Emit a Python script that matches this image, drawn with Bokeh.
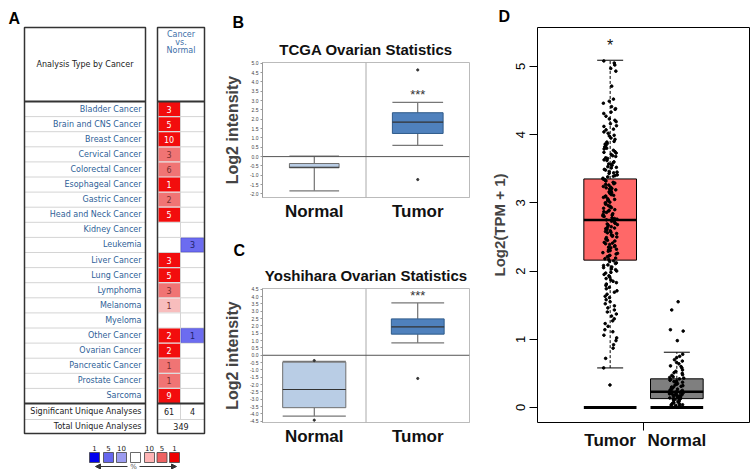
from bokeh.plotting import figure
from bokeh.layouts import row, column
from bokeh.models import (Range1d, FixedTicker, NumeralTickFormatter, Span,
                          Arrow, NormalHead, LinearAxis, ColumnDataSource,
                          CustomJSTickFormatter)
from bokeh.transform import jitter
from bokeh.core.properties import value
from bokeh.embed import file_html
from bokeh.resources import INLINE

# ======================= DATA =======================
# Panel A (Oncomine summary)
cancers = ["Bladder Cancer", "Brain and CNS Cancer", "Breast Cancer", "Cervical Cancer",
           "Colorectal Cancer", "Esophageal Cancer", "Gastric Cancer", "Head and Neck Cancer",
           "Kidney Cancer", "Leukemia", "Liver Cancer", "Lung Cancer", "Lymphoma", "Melanoma",
           "Myeloma", "Other Cancer", "Ovarian Cancer", "Pancreatic Cancer", "Prostate Cancer",
           "Sarcoma"]
up_counts = [3, 5, 10, 3, 6, 1, 2, 5, None, None, 3, 5, 3, 1, None, 2, 2, 1, 1, 9]
up_rank_pct = [1, 1, 1, 5, 5, 1, 5, 1, None, None, 1, 1, 5, 10, None, 1, 1, 5, 5, 1]
down_counts = [None, None, None, None, None, None, None, None, None, 3,
               None, None, None, None, None, 1, None, None, None, None]
down_rank_pct = [None, None, None, None, None, None, None, None, None, 5,
                 None, None, None, None, None, 5, None, None, None, None]
summary_labels = ["Significant Unique Analyses", "Total Unique Analyses"]
sig_unique = [61, 4]
total_unique = 349
legend_pct = ["1", "5", "10", "", "10", "5", "1"]

# Panel B (TCGA Ovarian)
b_groups = ["Normal", "Tumor"]
b_q1 = [-0.60, 1.24]
b_med = [-0.57, 1.85]
b_q3 = [-0.37, 2.35]
b_lo = [-1.83, 0.60]
b_hi = [0.03, 2.90]
b_out_g = ["Tumor", "Tumor"]
b_out_y = [4.64, -1.23]
b_sig_y = 3.35
b_ticks = [-2.0, -1.5, -1.0, -0.5, 0.0, 0.5, 1.0, 1.5, 2.0, 2.5, 3.0, 3.5, 4.0, 4.5, 5.0]

# Panel C (Yoshihara Ovarian)
c_groups = ["Normal", "Tumor"]
c_q1 = [-3.57, 1.44]
c_med = [-2.33, 1.94]
c_q3 = [-0.47, 2.48]
c_lo = [-4.15, 0.84]
c_hi = [-0.42, 3.57]
c_out_g = ["Normal", "Normal", "Tumor"]
c_out_y = [-0.36, -4.42, -1.58]
c_sig_y = 4.06
c_ticks = [-4.5, -4.0, -3.5, -3.0, -2.5, -2.0, -1.5, -1.0, -0.5, 0.0,
           0.5, 1.0, 1.5, 2.0, 2.5, 3.0, 3.5, 4.0, 4.5]

# Panel D (GEPIA)
d_groups = ["Tumor", "Normal"]
d_q1 = [2.16, 0.13]
d_med = [2.75, 0.23]
d_q3 = [3.35, 0.42]
d_lo = [0.58, 0.0]
d_hi = [5.09, 0.81]
d_zero = [0.0, 0.0]
d_sig_y = 5.30
d_ticks = [0, 1, 2, 3, 4, 5]
tumor_expr = [
    5.08, 5.05, 5.02, 4.97, 4.93, 4.71, 4.52, 4.49, 4.46, 4.41, 4.38, 4.37, 4.33, 4.31, 4.27,
    4.23, 4.21, 4.19, 4.16, 4.13, 4.12, 4.08, 4.07, 4.04, 4.02, 3.99, 3.98, 3.95, 3.93, 3.90,
    3.89, 3.87, 3.86, 3.84, 3.82, 3.80, 3.79, 3.77, 3.75, 3.74, 3.73, 3.71, 3.69, 3.68, 3.66,
    3.65, 3.63, 3.62, 3.60, 3.59, 3.57, 3.56, 3.55, 3.53, 3.52, 3.51, 3.49, 3.48, 3.46, 3.45,
    3.44, 3.43, 3.41, 3.40, 3.39, 3.38, 3.36, 3.35, 3.34, 3.33, 3.32, 3.30, 3.29, 3.28, 3.27,
    3.26, 3.24, 3.23, 3.22, 3.21, 3.20, 3.19, 3.17, 3.16, 3.15, 3.14, 3.12, 3.11, 3.10, 3.09,
    3.08, 3.06, 3.05, 3.04, 3.03, 3.01, 3.00, 2.99, 2.98, 2.96, 2.95, 2.94, 2.93, 2.92, 2.90,
    2.89, 2.88, 2.87, 2.86, 2.84, 2.83, 2.82, 2.81, 2.80, 2.78, 2.77, 2.76, 2.75, 2.74, 2.73,
    2.71, 2.70, 2.69, 2.68, 2.67, 2.65, 2.64, 2.63, 2.62, 2.61, 2.59, 2.58, 2.57, 2.56, 2.55,
    2.53, 2.52, 2.51, 2.50, 2.49, 2.47, 2.46, 2.45, 2.44, 2.42, 2.41, 2.40, 2.39, 2.37, 2.36,
    2.35, 2.34, 2.32, 2.31, 2.30, 2.29, 2.27, 2.26, 2.25, 2.23, 2.22, 2.21, 2.19, 2.18, 2.17,
    2.15, 2.14, 2.12, 2.11, 2.09, 2.08, 2.06, 2.05, 2.03, 2.02, 2.00, 1.98, 1.97, 1.95, 1.93,
    1.91, 1.89, 1.87, 1.85, 1.83, 1.81, 1.79, 1.76, 1.74, 1.71, 1.69, 1.66, 1.63, 1.61, 1.58,
    1.55, 1.52, 1.49, 1.46, 1.43, 1.40, 1.37, 1.34, 1.30, 1.27, 1.23, 1.19, 1.14, 1.11, 1.06,
    1.02, 0.98, 0.92, 0.87, 0.72, 0.58, 0.33]
normal_expr = [
    1.55, 1.43, 1.14, 1.12, 0.98, 0.78, 0.75, 0.73, 0.70, 0.68, 0.66, 0.64, 0.61, 0.60, 0.58,
    0.55, 0.53, 0.51, 0.50, 0.48, 0.47, 0.45, 0.44, 0.43, 0.42, 0.41, 0.40, 0.39, 0.38, 0.37,
    0.36, 0.35, 0.34, 0.33, 0.32, 0.31, 0.30, 0.30, 0.29, 0.28, 0.27, 0.26, 0.25, 0.25, 0.24,
    0.23, 0.23, 0.22, 0.22, 0.21, 0.21, 0.20, 0.20, 0.19, 0.19, 0.18, 0.18, 0.17, 0.17, 0.16,
    0.16, 0.15, 0.15, 0.14, 0.14, 0.13, 0.12, 0.12, 0.11, 0.10, 0.09, 0.08, 0.07, 0.06, 0.05,
    0.04, 0.04, 0.03, 0.02, 0.02, 0.01]

# ======================= STYLE / LAYOUT =======================
W_A, W_BC, W_D, H = 206, 264, 280, 469
H_B, H_C = 230, 239
SANS = value("Liberation Sans")
TAB = value("DejaVu Sans")
UP_COL = {1: "#f20d0d", 5: "#f07474", 10: "#f8bdbd"}
DN_COL = {1: "#1010ee", 5: "#6c6cf0", 10: "#9e9ef2"}
UP_TXT = {1: "#ffffff", 5: "#7a2f2f", 10: "#7a2f2f"}
DN_TXT = {1: "#ffffff", 5: "#22226a", 10: "#22226a"}
LEG_COL = ["#0000ee", "#6666ee", "#9c9cf0", "#ffffff", "#ffb4b4", "#ee6262", "#ee0000"]


def style_letter(t, text, offset, standoff, valign="bottom"):
    t.text = text
    t.align = "left"
    t.vertical_align = valign
    t.offset = offset
    t.standoff = standoff
    t.text_font = "Liberation Sans"
    t.text_font_size = "16px"
    t.text_font_style = "bold"
    t.text_color = "#000000"


def group_label_formatter(names):
    return CustomJSTickFormatter(args=dict(names=names),
                                 code="return names[Math.round(tick - 0.5)];")


# ---------------- Panel A ----------------
pa = figure(width=W_A, height=H, x_range=Range1d(0, W_A), y_range=Range1d(H, 0),
            output_backend="svg", toolbar_location=None, min_border=0, title=None,
            x_axis_location=None, y_axis_location=None)
pa.grid.visible = False
pa.outline_line_color = None

L0, L1 = 24, 145
R0, RM, R1 = 157, 180, 204
TOP, HDR, ROWH = 27, 101, 15.1
n = len(cancers)
ROWS_END = HDR + n * ROWH
SIG_B = ROWS_END + 16
TOT_B = SIG_B + 14
row_y = [HDR + (i + 0.5) * ROWH for i in range(n)]

sep_y = [HDR + i * ROWH for i in range(1, n)] + [SIG_B]
pa.segment(x0=[L0] * len(sep_y), x1=[L1] * len(sep_y), y0=sep_y, y1=sep_y,
           line_color="#d4d4d4", line_width=1)
pa.segment(x0=[R0] * len(sep_y), x1=[R1] * len(sep_y), y0=sep_y, y1=sep_y,
           line_color="#d4d4d4", line_width=1)
pa.segment(x0=[RM], x1=[RM], y0=[HDR], y1=[SIG_B], line_color="#d4d4d4", line_width=1)

uy, ut, uc, utc = [], [], [], []
for i, (c, r) in enumerate(zip(up_counts, up_rank_pct)):
    if c is not None:
        uy.append(row_y[i]); ut.append(str(c)); uc.append(UP_COL[r]); utc.append(UP_TXT[r])
pa.quad(left=R0 + 1, right=RM - 0.5, top=[y - ROWH / 2 + 0.6 for y in uy],
        bottom=[y + ROWH / 2 - 0.6 for y in uy], fill_color=uc, line_color=None)
pa.text(x=[(R0 + RM) / 2] * len(uy), y=uy, text=ut, text_color=utc, text_align="center",
        text_baseline="middle", text_font=TAB, text_font_size="8px")
dy, dt, dc, dtc = [], [], [], []
for i, (c, r) in enumerate(zip(down_counts, down_rank_pct)):
    if c is not None:
        dy.append(row_y[i]); dt.append(str(c)); dc.append(DN_COL[r]); dtc.append(DN_TXT[r])
pa.quad(left=RM + 0.5, right=R1 - 1, top=[y - ROWH / 2 + 0.6 for y in dy],
        bottom=[y + ROWH / 2 - 0.6 for y in dy], fill_color=dc, line_color="#4444cc",
        line_width=0.5)
pa.text(x=[(RM + R1) / 2] * len(dy), y=dy, text=dt, text_color=dtc, text_align="center",
        text_baseline="middle", text_font=TAB, text_font_size="8px")

for x0, x1 in [(L0, L1), (R0, R1)]:
    pa.quad(left=[x0], right=[x1], top=[TOP], bottom=[TOT_B], fill_color=None,
            line_color="#333333", line_width=1.5)
    pa.segment(x0=[x0, x0], x1=[x1, x1], y0=[HDR, ROWS_END], y1=[HDR, ROWS_END],
               line_color="#333333", line_width=2)

pa.text(x=[(L0 + L1) / 2], y=[HDR / 2 + TOP / 2], text=["Analysis Type by Cancer"],
        text_align="center", text_baseline="middle", text_font=TAB, text_font_size="8px",
        text_color="#222222")
pa.text(x=[(R0 + R1) / 2] * 3, y=[TOP + 7, TOP + 15, TOP + 23], text=["Cancer", "vs.", "Normal"],
        text_align="center", text_baseline="middle", text_font=TAB, text_font_size="8px",
        text_color="#3d6fa8")
pa.text(x=[L1 - 4] * n, y=row_y, text=cancers, text_align="right", text_baseline="middle",
        text_font=TAB, text_font_size="8px", text_color="#2f5f98")
sum_y = [(ROWS_END + SIG_B) / 2, (SIG_B + TOT_B) / 2]
pa.text(x=[L1 - 4] * 2, y=sum_y, text=summary_labels, text_align="right",
        text_baseline="middle", text_font=TAB, text_font_size="8px", text_color="#222222")
pa.text(x=[(R0 + RM) / 2, (RM + R1) / 2, (R0 + R1) / 2], y=[sum_y[0], sum_y[0], sum_y[1]],
        text=[str(sig_unique[0]), str(sig_unique[1]), str(total_unique)], text_align="center",
        text_baseline="middle", text_font=TAB, text_font_size="8px", text_color="#222222")

leg_x = [94, 108, 121, 135, 149, 161.5, 174]
LEG_Y = 457
pa.rect(x=leg_x, y=[LEG_Y] * 7, width=10, height=10, fill_color=LEG_COL,
        line_color="#444444", line_width=0.8)
lab_idx = [i for i, t in enumerate(legend_pct) if t]
pa.text(x=[leg_x[i] for i in lab_idx], y=[LEG_Y - 10] * len(lab_idx),
        text=[legend_pct[i] for i in lab_idx], text_align="center",
        text_baseline="middle", text_font=TAB, text_font_size="7px", text_color="#222222")
pa.text(x=[133], y=[LEG_Y + 9], text=["%"], text_align="center", text_baseline="middle",
        text_font=TAB, text_font_size="7px", text_color="#555555")
pa.add_layout(Arrow(x_start=127, y_start=LEG_Y + 9, x_end=95, y_end=LEG_Y + 9,
                    line_color="#333333", line_width=1,
                    end=NormalHead(size=5, fill_color="#333333", line_color="#333333")))
pa.add_layout(Arrow(x_start=139, y_start=LEG_Y + 9, x_end=176, y_end=LEG_Y + 9,
                    line_color="#333333", line_width=1,
                    end=NormalHead(size=5, fill_color="#333333", line_color="#333333")))
pa.text(x=[8], y=[9], text=["A"], text_align="left", text_baseline="top", text_font=SANS,
        text_font_size="16px", text_font_style="bold", text_color="#000000")


# ---------------- Panels B, C ----------------
def oncomine_panel(title, groups, q1, med, q3, lo, hi, widths, out_g, out_y, sig_y, ticks,
                   yr, height, btop, bbot, letter, letter_off, letter_standoff):
    gx = [i + 0.5 for i in range(len(groups))]
    pos = dict(zip(groups, gx))
    p = figure(width=W_BC, height=height, x_range=Range1d(0, len(groups)),
               y_range=Range1d(*yr), output_backend="svg", toolbar_location=None,
               min_border_left=56, min_border_right=1, min_border_top=btop,
               min_border_bottom=bbot, x_axis_location=None)
    p.grid.visible = False
    p.outline_line_color = "#bbbbbb"
    style_letter(p.title, letter, letter_off, letter_standoff, valign="top")
    # title drawn as the label of an (empty) axis above the frame
    top_ax = LinearAxis(ticker=FixedTicker(ticks=[]), axis_line_color=None,
                        major_tick_out=0, major_tick_in=0, minor_tick_line_color=None,
                        major_label_standoff=0, axis_label=title, axis_label_standoff=5,
                        axis_label_text_font="Liberation Sans",
                        axis_label_text_font_size="15px", axis_label_text_font_style="bold",
                        axis_label_text_color="#111111")
    p.add_layout(top_ax, "above")
    bot_ax = LinearAxis(ticker=FixedTicker(ticks=gx), formatter=group_label_formatter(groups),
                        axis_line_color="#bbbbbb", major_tick_line_color=None,
                        major_tick_out=0, major_tick_in=0, minor_tick_line_color=None,
                        major_label_text_font="Liberation Sans",
                        major_label_text_font_size="17px", major_label_text_font_style="bold",
                        major_label_text_color="#111111", major_label_standoff=4)
    p.add_layout(bot_ax, "below")
    ya = p.yaxis[0]
    ya.ticker = FixedTicker(ticks=ticks)
    ya.formatter = NumeralTickFormatter(format="0.0")
    ya.major_label_text_font_size = "5px"
    ya.major_label_text_color = "#444444"
    ya.major_label_standoff = 2
    ya.axis_line_color = "#999999"
    ya.major_tick_out = 2
    ya.major_tick_in = 0
    ya.major_tick_line_color = "#999999"
    ya.minor_tick_line_color = None
    ya.axis_label = "Log2 intensity"
    ya.axis_label_text_font = "Liberation Sans"
    ya.axis_label_text_font_size = "16px"
    ya.axis_label_text_font_style = "bold"
    ya.axis_label_standoff = 6
    p.add_layout(Span(location=1.0, dimension="height", line_color="#aaaaaa", line_width=1))
    p.add_layout(Span(location=0.0, dimension="width", line_color="#555555", line_width=1))
    src = ColumnDataSource(dict(
        x=gx, q1=q1, med=med, q3=q3, lo=lo, hi=hi, w=widths,
        l=[x - w / 2 for x, w in zip(gx, widths)], r=[x + w / 2 for x, w in zip(gx, widths)],
        fill=["#b9cde5", "#4f81bd"], edge=["#6f6f6f", "#2f5a8a"]))
    p.segment(x0="x", x1="x", y0="q3", y1="hi", line_color="#555555", source=src)
    p.segment(x0="x", x1="x", y0="q1", y1="lo", line_color="#555555", source=src)
    p.vbar(x="x", top="q3", bottom="q1", width="w", fill_color="fill", line_color="edge",
           line_width=1, source=src)
    p.segment(x0="l", x1="r", y0="hi", y1="hi", line_color="#777777", line_width=1.2, source=src)
    p.segment(x0="l", x1="r", y0="lo", y1="lo", line_color="#777777", line_width=1.2, source=src)
    p.segment(x0="l", x1="r", y0="med", y1="med", line_color="#333333", line_width=1.2,
              source=src)
    p.scatter(x=[pos[g] for g in out_g], y=out_y, size=2.2, color="#333333")
    p.text(x=[pos["Tumor"]], y=[sig_y], text=["***"], text_align="center",
           text_baseline="middle", text_font=SANS, text_font_size="13px", text_color="#333333")
    return p


pb = oncomine_panel("TCGA Ovarian Statistics", b_groups, b_q1, b_med, b_q3, b_lo, b_hi,
                    [0.48, 0.49], b_out_g, b_out_y, b_sig_y, b_ticks, (-2.19, 5.04),
                    H_B, 62, 33, "B", -30, 10)
pc = oncomine_panel("Yoshihara Ovarian Statistics", c_groups, c_q1, c_med, c_q3, c_lo, c_hi,
                    [0.61, 0.51], c_out_g, c_out_y, c_sig_y, c_ticks, (-4.58, 4.55),
                    H_C, 58, 47, "C", -29, 6)

# ---------------- Panel D ----------------
D_YR = (-0.22, 5.57)
d_x = [i + 0.5 for i in range(len(d_groups))]
pd_ = figure(width=W_D, height=H, x_range=Range1d(-0.59, 2.59),
             y_range=Range1d(*D_YR), output_backend="svg", toolbar_location=None,
             min_border_left=67, min_border_right=1, min_border_top=27, min_border_bottom=47,
             x_axis_location=None)
pd_.grid.visible = False
pd_.outline_line_color = "#000000"
pd_.outline_line_width = 1
style_letter(pd_.title, "D", -39, 5)
yd = pd_.yaxis[0]
yd.ticker = FixedTicker(ticks=d_ticks)
yd.major_label_orientation = "parallel"
yd.major_label_text_font = "Liberation Sans"
yd.major_label_text_font_size = "13px"
yd.major_label_text_color = "#000000"
yd.axis_line_color = None
yd.major_tick_out = 8
yd.major_tick_in = 0
yd.major_tick_line_color = "#000000"
yd.minor_tick_line_color = None
yd.major_label_standoff = 4
yd.axis_label = "Log2(TPM + 1)"
yd.axis_label_text_font = "Liberation Sans"
yd.axis_label_text_font_size = "15px"
yd.axis_label_text_font_style = "bold"
yd.axis_label_standoff = 6

# single tick between the two groups (no label)
tick_ax = LinearAxis(ticker=FixedTicker(ticks=[1.0]),
                     formatter=CustomJSTickFormatter(code="return '';"),
                     major_tick_out=8, major_tick_in=0, major_tick_line_color="#000000",
                     axis_line_color=None, minor_tick_line_color=None, major_label_standoff=0,
                     major_label_text_font_size="2px")
pd_.add_layout(tick_ax, "below")
lab_ax = LinearAxis(ticker=FixedTicker(ticks=d_x), formatter=group_label_formatter(d_groups),
                    major_tick_line_color=None, major_tick_out=0, major_tick_in=0,
                    axis_line_color=None, minor_tick_line_color=None,
                    major_label_text_font="Liberation Sans", major_label_text_font_size="17px",
                    major_label_text_font_style="bold", major_label_text_color="#111111",
                    major_label_standoff=0)
pd_.add_layout(lab_ax, "below")

d_fill = ["#ff6868", "#7f7f7f"]
BW, CW = 0.79, 0.39
src = ColumnDataSource(dict(
    x=d_x, q1=d_q1, med=d_med, q3=d_q3, lo=d_lo, hi=d_hi, z=d_zero,
    bl=[x - BW / 2 for x in d_x], br=[x + BW / 2 for x in d_x],
    cl=[x - CW / 2 for x in d_x], cr=[x + CW / 2 for x in d_x], fill=d_fill))
pd_.vbar(x="x", top="q3", bottom="q1", width=BW, fill_color="fill",
         line_color="#000000", line_width=1, source=src)
pd_.segment(x0="x", x1="x", y0="q3", y1="hi", line_color="#000000", line_dash="3 2", source=src)
pd_.segment(x0="x", x1="x", y0="q1", y1="lo", line_color="#000000", line_dash="3 2", source=src)
pd_.segment(x0="cl", x1="cr", y0="hi", y1="hi", line_color="#000000", line_width=1, source=src)
pd_.segment(x0="cl", x1="cr", y0="lo", y1="lo", line_color="#000000", line_width=1, source=src)
pd_.segment(x0="bl", x1="br", y0="med", y1="med", line_color="#000000", line_width=2.5,
            source=src)
pd_.segment(x0="bl", x1="br", y0="z", y1="z", line_color="#000000", line_width=3, source=src)

pts = ColumnDataSource(dict(x=[d_x[0]] * len(tumor_expr) + [d_x[1]] * len(normal_expr),
                            v=tumor_expr + normal_expr))
pd_.scatter(x=jitter("x", width=0.22), y="v", size=2.6, color="#000000", source=pts)
pd_.text(x=[d_x[0]], y=[d_sig_y], text=["*"], text_align="center", text_baseline="middle",
         text_font=SANS, text_font_size="16px", text_color="#111111")

layout = row(column(pa), column(pb, pc), column(pd_))
open("out.html", "w").write(file_html(layout, INLINE))
